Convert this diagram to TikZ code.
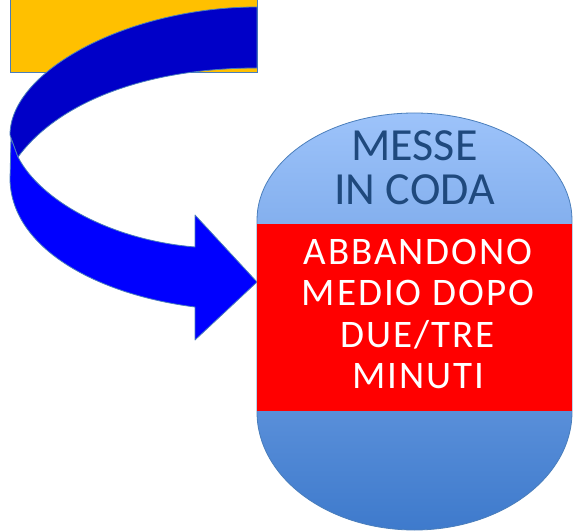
\documentclass[tikz,border=0pt]{standalone}
\usepackage{fontspec}
\setmainfont{Carlito}
\usetikzlibrary{positioning}

\definecolor{boxyellow}{RGB}{255,192,0}
\definecolor{edgeblue}{RGB}{74,126,187}
\definecolor{backblue}{RGB}{0,0,200}
\definecolor{frontblue}{RGB}{0,0,255}
\definecolor{ovaltop}{RGB}{157,195,250}
\definecolor{ovalbottom}{RGB}{62,122,204}
\definecolor{titleblue}{RGB}{31,73,125}
\definecolor{alertred}{RGB}{255,0,0}

\begin{document}
\begin{tikzpicture}[
    x=1pt, y=-1pt,
    source/.style={rectangle, draw=edgeblue, line width=1pt, fill=boxyellow, minimum width=247pt, minimum height=100pt, inner sep=0pt},
    ribbon/.style={draw=edgeblue, line width=0.8pt, line join=round},
    alert/.style={rectangle, fill=alertred, text=white, minimum width=315pt, minimum height=187pt, inner sep=0pt, align=center, font=\fontsize{39}{41.5}\selectfont\addfontfeatures{LetterSpace=5}},
    title/.style={text=titleblue, align=center, inner sep=0pt, font=\fontsize{46}{44}\selectfont}
]

\useasboundingbox (0,0) rectangle (573,532);
\clip (0,0) rectangle (573,532);

% Source box (top cut off)
\node[source, anchor=south west] (source) at (10,73) {};

% Curved arrow: front band with head
\path[ribbon, fill=frontblue] (11,138) -- (10,180)
    .. controls (12,250) and (100,295) .. (195,307)
    -- (195,340) -- (257,282) -- (195,215) -- (195,247)
    .. controls (110,240) and (40,200) .. (18,157) -- cycle;

% Curved arrow: back band
\path[ribbon, fill=backblue] (257,7)
    .. controls (130,7) and (10,70) .. (10,135)
    -- (18,157)
    .. controls (60,100) and (150,68) .. (257,68) -- cycle;

% Queue
\path[draw=edgeblue, line width=0.8pt, top color=ovaltop, bottom color=ovalbottom]
    (257,220) arc[start angle=180, end angle=360, x radius=157.5, y radius=107]
    -- (572,412) arc[start angle=0, end angle=180, x radius=157.5, y radius=118] -- cycle;

\node[alert] (abandon) at (414.5,317.5) {};
\node[alert, fill=none, minimum width=0pt, minimum height=0pt] (reason) at (418,314) {ABBANDONO\\MEDIO DOPO\\DUE/TRE\\MINUTI};
\node[title, above=19pt of abandon] (queue) {MESSE\\IN CODA};

\end{tikzpicture}
\end{document}
